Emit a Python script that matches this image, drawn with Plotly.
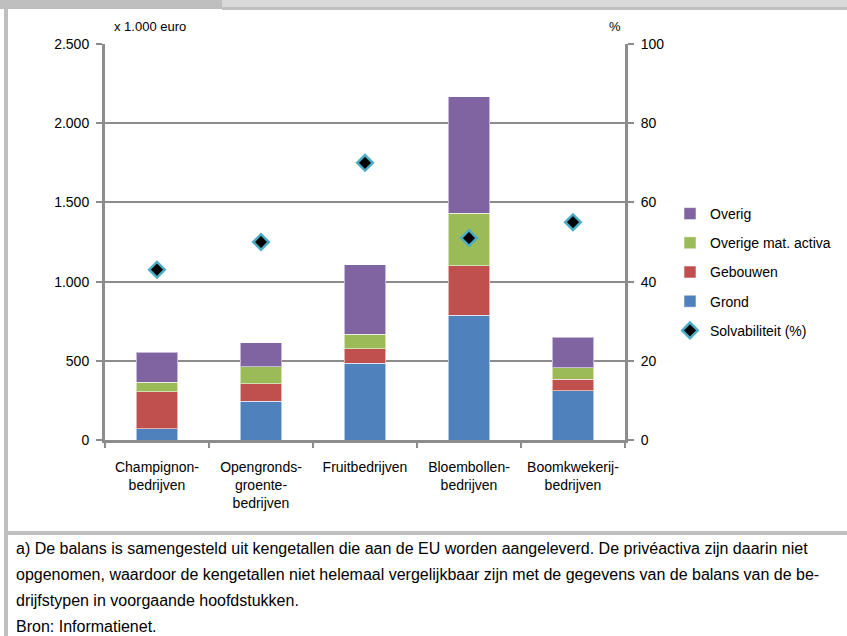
import plotly.graph_objects as go

# Balance sheet composition per farm type (x 1.000 euro) and solvency (%)
categories = ["Champignon-<br>bedrijven", "Opengronds-<br>groente-<br>bedrijven",
              "Fruitbedrijven", "Bloembollen-<br>bedrijven", "Boomkwekerij-<br>bedrijven"]
grond = [70, 246, 486, 789, 311]
gebouwen = [235, 109, 89, 311, 72]
overige_mat_activa = [60, 108, 94, 333, 72]
overig = [190, 151, 436, 734, 193]
solvabiliteit = [43, 50, 70, 51, 55]

left_ticks = [0, 500, 1000, 1500, 2000, 2500]
left_ticktext = ["0", "500", "1.000", "1.500", "2.000", "2.500"]
right_ticks = [0, 20, 40, 60, 80, 100]

W, H = 847, 636
L, R, T, B = 105, 625, 44, 440  # plot area in pixels

FONT = "Liberation Sans, Arial, sans-serif"
GRID = "#8c8c8c"

def px(x):
    return (x - L) / (R - L)

def py(y):
    return (B - y) / (B - T)

fig = go.Figure()

stack = [
    ("Grond", grond, "#4f81bd", 4),
    ("Gebouwen", gebouwen, "#c0504d", 3),
    ("Overige mat. activa", overige_mat_activa, "#9bbb59", 2),
    ("Overig", overig, "#8064a2", 1),
]
for name, vals, color, rank in stack:
    fig.add_trace(go.Bar(
        x=categories, y=vals, name=name, width=0.4,
        marker=dict(color=color, line=dict(color="rgba(255,255,255,0.55)", width=1)),
        legendrank=rank, legendgroup=name, hoverinfo="skip",
    ))

fig.add_trace(go.Scatter(
    x=categories, y=solvabiliteit, name="Solvabiliteit (%)", mode="markers",
    yaxis="y2", legendrank=5, legendgroup="solv", hoverinfo="skip",
    marker=dict(symbol="diamond", size=12, color="black",
                line=dict(color="#4bacc6", width=2.5)),
))

fig.update_layout(
    width=W, height=H,
    margin=dict(l=L, r=W - R, t=T, b=H - B, pad=0, autoexpand=False),
    paper_bgcolor="white", plot_bgcolor="white",
    barmode="stack",
    font=dict(family=FONT, size=14, color="black"),
    showlegend=True,
    legend=dict(
        x=px(670), y=py(198), xanchor="left", yanchor="top",
        traceorder="grouped", tracegroupgap=8,
        font=dict(size=14), bgcolor="rgba(0,0,0,0)",
        itemwidth=30,
    ),
    xaxis=dict(
        showline=True, linecolor=GRID, linewidth=3,
        ticks="outside", tickson="boundaries", ticklen=5, tickwidth=2, tickcolor=GRID,
        showgrid=False, tickfont=dict(size=14), tickangle=0, ticklabelstandoff=12,
    ),
    yaxis=dict(
        range=[0, 2500], tickvals=left_ticks, ticktext=left_ticktext,
        showline=True, linecolor=GRID, linewidth=3,
        showgrid=True, gridcolor=GRID, gridwidth=2,
        ticks="outside", ticklen=6, tickwidth=2, tickcolor=GRID,
        zeroline=False, tickfont=dict(size=14), ticklabelstandoff=4,
    ),
    yaxis2=dict(
        range=[0, 100], tickvals=right_ticks, overlaying="y", side="right",
        showline=True, linecolor=GRID, linewidth=3, showgrid=False,
        ticks="outside", ticklen=6, tickwidth=2, tickcolor=GRID,
        zeroline=False, tickfont=dict(size=14), ticklabelstandoff=4,
    ),
)

# axis unit captions
fig.add_annotation(text="x 1.000 euro", x=px(112), y=py(27), xref="paper", yref="paper",
                   xanchor="left", yanchor="middle", showarrow=False, font=dict(size=13))
fig.add_annotation(text="%", x=px(615), y=py(27), xref="paper", yref="paper",
                   xanchor="center", yanchor="middle", showarrow=False, font=dict(size=13))

# page frame: top band, left border and separator above the footnote
frame = [
    (0, 0, 222, 9, "#bfbfbf"),
    (222, 0, W, 7, "#d9d9d9"),
    (222, 7, W, 10, "#bfbfbf"),
    (4, 0, 8, H, "#bfbfbf"),
    (4, 531, W, 535, "#bfbfbf"),
]
for x0, y0, x1, y1, c in frame:
    fig.add_shape(type="rect", xref="paper", yref="paper",
                  x0=px(x0), x1=px(x1), y0=py(y0), y1=py(y1),
                  fillcolor=c, line=dict(width=0), layer="above")

footnote = [
    "a) De balans is samengesteld uit kengetallen die aan de EU worden aangeleverd. De privéactiva zijn daarin niet",
    "opgenomen, waardoor de kengetallen niet helemaal vergelijkbaar zijn met de gegevens van de balans van de be-",
    "drijfstypen in voorgaande hoofdstukken.",
    "Bron: Informatienet.",
]
for i, line in enumerate(footnote):
    fig.add_annotation(text=line, x=px(14), y=py(548 + 26.2 * i), xref="paper", yref="paper",
                       xanchor="left", yanchor="middle", showarrow=False, font=dict(size=16))

fig.write_html("out.html")
